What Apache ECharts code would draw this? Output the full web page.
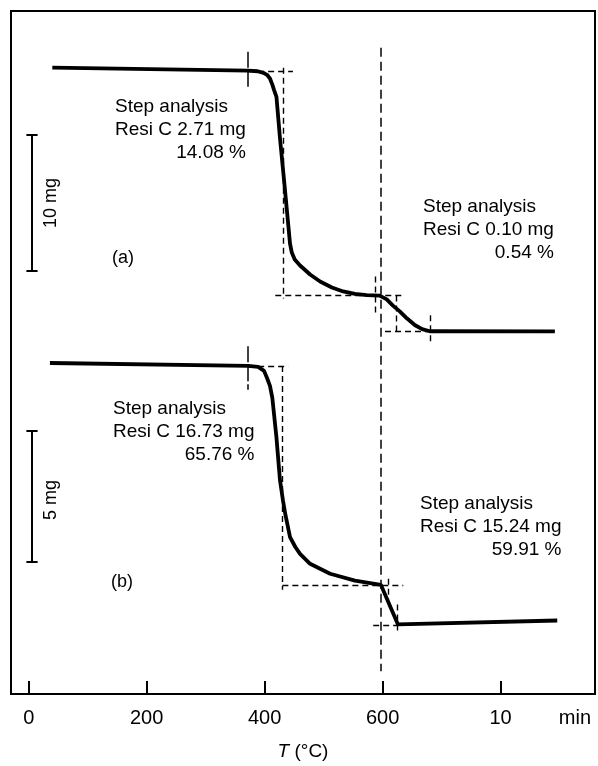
<!DOCTYPE html>
<html><head><meta charset="utf-8">
<script src="https://cdn.jsdelivr.net/npm/echarts@6/dist/echarts.min.js"></script>
<style>html,body{margin:0;padding:0;background:#fff}#c{width:598px;height:766px}</style>
</head><body><div id="c"></div>
<script>
// ---- axis ticks / labels ----
const xTickValues = [0, 200, 400, 600, 800];
const xLabelValues = [0, 200, 400, 600, 800, 926];
const xLabelTexts = ['0', '200', '400', '600', '10', 'min'];

// ---- curve (a): [T or time position, mass mg] ----
const curveA = [[40,19.44],[372,19.22],[388,19.18],[398,19.06],[404,18.92],[409,18.65],[413,18.2],[416,17.8],[420,17.3],[426,14.26],[433,11.13],[440,7.92],[443,6.53],[446,5.88],[451,5.37],[460,4.93],[477,4.27],[494,3.76],[514,3.32],[533,3.03],[553,2.85],[573,2.76],[595,2.72],[607,2.45],[617,2.01],[629,1.57],[641,1.06],[655,0.55],[667,0.26],[680,0.11],[892,0.10]];
// ---- curve (b) ----
const curveB = [[36,25.2],[372,25.09],[389,25.05],[399,24.9],[404,24.63],[409,24.33],[413,23.87],[420,22.36],[426,20.73],[431,19.97],[435,19.44],[443,18.57],[452,18.19],[460,17.93],[477,17.55],[511,17.17],[553,16.91],[597,16.75],[626,15.24],[896,15.39]];

// ---- step-analysis construction lines (segments) ----
const onsetTicksA = [[[372,20.61],[372,17.98]]];
const stepsA = [
  [[372,19.15],[448,19.15]],
  [[431,19.44],[431,2.52]],
  [[418,2.74],[638,2.74]],
  [[587,4.12],[587,1.28]],
  [[623,2.74],[623,0.04]],
  [[604,0.11],[680,0.11]],
  [[680,1.28],[680,-0.76]]
];
const onsetTicksB = [[[372,25.84],[372,24.18]]];
const stepsB = [
  [[372,25.09],[440,25.09]],
  [[430,25.09],[430,16.56]],
  [[430,16.75],[635,16.75]],
  [[609,16.98],[609,16.19]],
  [[624,16.0],[624,14.9]],
  [[584,15.2],[626,15.2]]
];
const line600 = [[597,20.9],[597,-24.83]];

// ---- scale bars ----
const scaleBarX = 5.6;
const scaleBarA = [14.55, 4.55]; // 10 mg on axis (a)
const scaleBarB = [22.63, 17.63]; // 5 mg on axis (b)
const capHalf = 9.5;

// ---- texts ----
const textA1 = ['Step analysis', 'Resi C 2.71 mg', '14.08 %'];
const textA2 = ['Step analysis', 'Resi C 0.10 mg', '0.54 %'];
const textB1 = ['Step analysis', 'Resi C 16.73 mg', '65.76 %'];
const textB2 = ['Step analysis', 'Resi C 15.24 mg', '59.91 %'];

const FONT = '"Liberation Sans", Arial, sans-serif';
const segs = arr => arr.map(c => ({coords: c}));
function bar(vals) {
  return [
    {coords: [[scaleBarX, vals[0]], [scaleBarX, vals[1]]]},
    {coords: [[scaleBarX - capHalf, vals[0]], [scaleBarX + capHalf, vals[0]]]},
    {coords: [[scaleBarX - capHalf, vals[1]], [scaleBarX + capHalf, vals[1]]]}
  ];
}
function block(lines, x, y) {
  return {
    type: 'text', x: x, y: y, silent: true,
    style: {
      text: '{l|' + lines[0] + '}\n{l|' + lines[1] + '}\n{r|' + lines[2] + '}',
      fill: '#000', fontSize: 19, fontFamily: FONT,
      rich: {
        l: {fontSize: 19, fontFamily: FONT, lineHeight: 23, fill: '#000', align: 'left'},
        r: {fontSize: 19, fontFamily: FONT, lineHeight: 23, fill: '#000', align: 'right'}
      }
    }
  };
}
function label(t, x, y, rot) {
  return {type: 'text', x: x, y: y, rotation: rot || 0, silent: true,
    style: {text: t, fill: '#000', fontSize: 18, fontFamily: FONT, align: 'center', verticalAlign: 'middle'}};
}

const chart = echarts.init(document.getElementById('c'), null, {renderer: 'canvas'});
const dashed = {color: '#000', width: 1.4, type: [6, 4], opacity: 1};
chart.setOption({
  animation: false,
  backgroundColor: '#fff',
  grid: {left: 11, right: 3, top: 11, bottom: 68, show: true, borderColor: '#000', borderWidth: 2},
  xAxis: {
    type: 'value', min: -30, max: 960,
    axisLine: {show: true, onZero: false, lineStyle: {color: '#000', width: 2}},
    axisTick: {show: true, inside: true, length: 13, customValues: xTickValues, lineStyle: {color: '#000', width: 2}},
    axisLabel: {customValues: xLabelValues, formatter: v => xLabelTexts[xLabelValues.indexOf(v)],
      color: '#000', fontSize: 20, fontFamily: FONT, margin: 14},
    splitLine: {show: false},
    name: '{i|T} (°C)', nameLocation: 'middle', nameGap: 48,
    nameTextStyle: {fontSize: 19, color: '#000', fontFamily: FONT,
      rich: {i: {fontStyle: 'italic', fontSize: 19, fontFamily: FONT, color: '#000'}}}
  },
  yAxis: [
    {type: 'value', min: -26.5, max: 23.6, show: false},
    {type: 'value', min: 12.59, max: 38.61, show: false}
  ],
  series: [
    {type: 'line', yAxisIndex: 0, data: curveA, showSymbol: false, lineStyle: {color: '#000', width: 3.8}, z: 5},
    {type: 'line', yAxisIndex: 1, data: curveB, showSymbol: false, lineStyle: {color: '#000', width: 3.8}, z: 5},
    {type: 'lines', coordinateSystem: 'cartesian2d', yAxisIndex: 0, data: segs(stepsA), lineStyle: dashed, silent: true},
    {type: 'lines', coordinateSystem: 'cartesian2d', yAxisIndex: 1, data: segs(stepsB), lineStyle: dashed, silent: true},
    {type: 'lines', coordinateSystem: 'cartesian2d', yAxisIndex: 0, data: segs(onsetTicksA), lineStyle: {color: '#000', width: 1.5, type: [16, 3], opacity: 1}, silent: true},
    {type: 'lines', coordinateSystem: 'cartesian2d', yAxisIndex: 1, data: segs(onsetTicksB), lineStyle: {color: '#000', width: 1.5, type: [16, 3], opacity: 1}, silent: true},
    {type: 'lines', coordinateSystem: 'cartesian2d', yAxisIndex: 0, data: [{coords: line600}], lineStyle: {color: '#000', width: 1.5, type: [9, 5], opacity: 1}, silent: true},
    {type: 'lines', coordinateSystem: 'cartesian2d', yAxisIndex: 0, data: bar(scaleBarA), lineStyle: {color: '#000', width: 2, opacity: 1}, silent: true},
    {type: 'lines', coordinateSystem: 'cartesian2d', yAxisIndex: 1, data: bar(scaleBarB), lineStyle: {color: '#000', width: 2, opacity: 1}, silent: true}
  ],
  graphic: [
    block(textA1, 115, 95),
    block(textA2, 423, 195),
    block(textB1, 113, 397),
    block(textB2, 420, 492),
    label('(a)', 123, 258),
    label('(b)', 122, 582),
    label('10 mg', 51, 203, Math.PI / 2),
    label('5 mg', 51, 500, Math.PI / 2)
  ]
});
</script></body></html>
